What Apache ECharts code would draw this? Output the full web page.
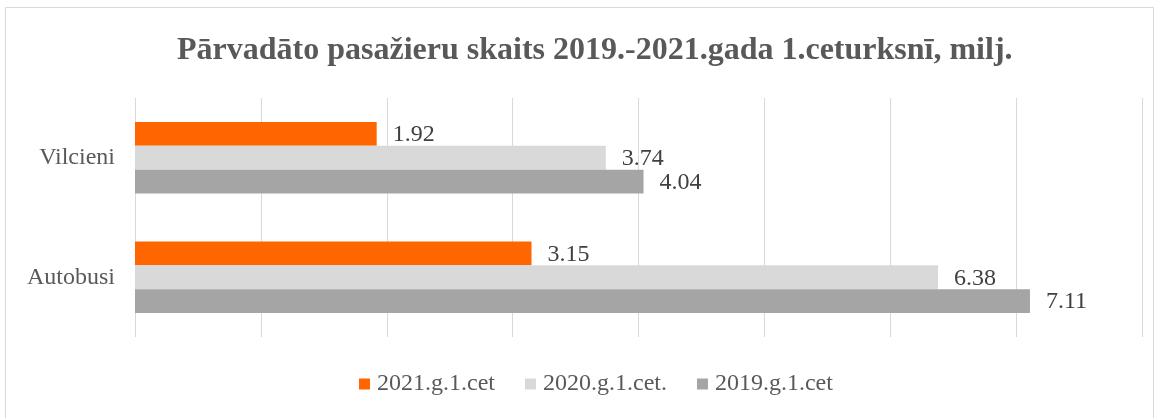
<!DOCTYPE html>
<html>
<head>
<meta charset="utf-8">
<script src="https://cdn.jsdelivr.net/npm/echarts@6/dist/echarts.min.js"></script>
<style>
  html, body { margin: 0; padding: 0; background: #fff; }
  #chart { width: 1159px; height: 418px; }
</style>
</head>
<body>
<div id="chart"></div>
<script>
// data
const categories = ['Autobusi', 'Vilcieni'];
const seriesNames = ['2021.g.1.cet', '2020.g.1.cet.', '2019.g.1.cet'];
const values2021 = [3.15, 1.92];
const values2020 = [6.38, 3.74];
const values2019 = [7.11, 4.04];

const serif = '"Liberation Serif", "Times New Roman", serif';

const labelStyle = {
  show: true,
  position: 'right',
  distance: 16,
  offset: [0, 1],
  fontFamily: serif,
  fontSize: 24,
  color: '#404040',
  formatter: p => p.value.toFixed(2)
};

const chart = echarts.init(document.getElementById('chart'));

const option = {
  animation: false,
  backgroundColor: '#fff',
  title: {
    text: 'Pārvadāto pasažieru skaits 2019.-2021.gada 1.ceturksnī, milj.',
    left: 172,
    top: 30,
    textStyle: {
      fontFamily: serif,
      fontSize: 32,
      fontWeight: 'bold',
      color: '#595959'
    }
  },
  graphic: [{
    type: 'rect',
    shape: { x: 5.5, y: 7.5, width: 1148, height: 420 },
    style: { fill: 'none', stroke: '#d9d9d9', lineWidth: 1 },
    silent: true
  }],
  legend: {
    data: seriesNames,
    bottom: 17,
    left: 354,
    itemWidth: 11,
    itemHeight: 11,
    itemGap: 30,
    icon: 'rect',
    textStyle: {
      fontFamily: serif,
      fontSize: 24,
      color: '#595959',
      padding: [0, 0, 0, 2]
    }
  },
  grid: {
    left: 135,
    right: 17,
    top: 98,
    bottom: 81,
    containLabel: false
  },
  xAxis: {
    type: 'value',
    min: 0,
    max: 8,
    interval: 1,
    axisLabel: { show: false },
    axisLine: { show: false },
    axisTick: { show: false },
    splitLine: { show: true, lineStyle: { color: '#d9d9d9', width: 1 } }
  },
  yAxis: {
    type: 'category',
    data: categories,
    axisLine: { show: false },
    axisTick: { show: false },
    axisLabel: {
      margin: 20,
      fontFamily: serif,
      fontSize: 24,
      color: '#595959'
    }
  },
  series: [
    {
      name: seriesNames[0],
      type: 'bar',
      data: values2021,
      itemStyle: { color: '#ff6600' },
      barGap: '0%',
      barCategoryGap: '40%',
      label: labelStyle
    },
    {
      name: seriesNames[1],
      type: 'bar',
      data: values2020,
      itemStyle: { color: '#d9d9d9' },
      barGap: '0%',
      barCategoryGap: '40%',
      label: labelStyle
    },
    {
      name: seriesNames[2],
      type: 'bar',
      data: values2019,
      itemStyle: { color: '#a5a5a5' },
      barGap: '0%',
      barCategoryGap: '40%',
      label: labelStyle
    }
  ]
};

option && chart.setOption(option);
</script>
</body>
</html>
